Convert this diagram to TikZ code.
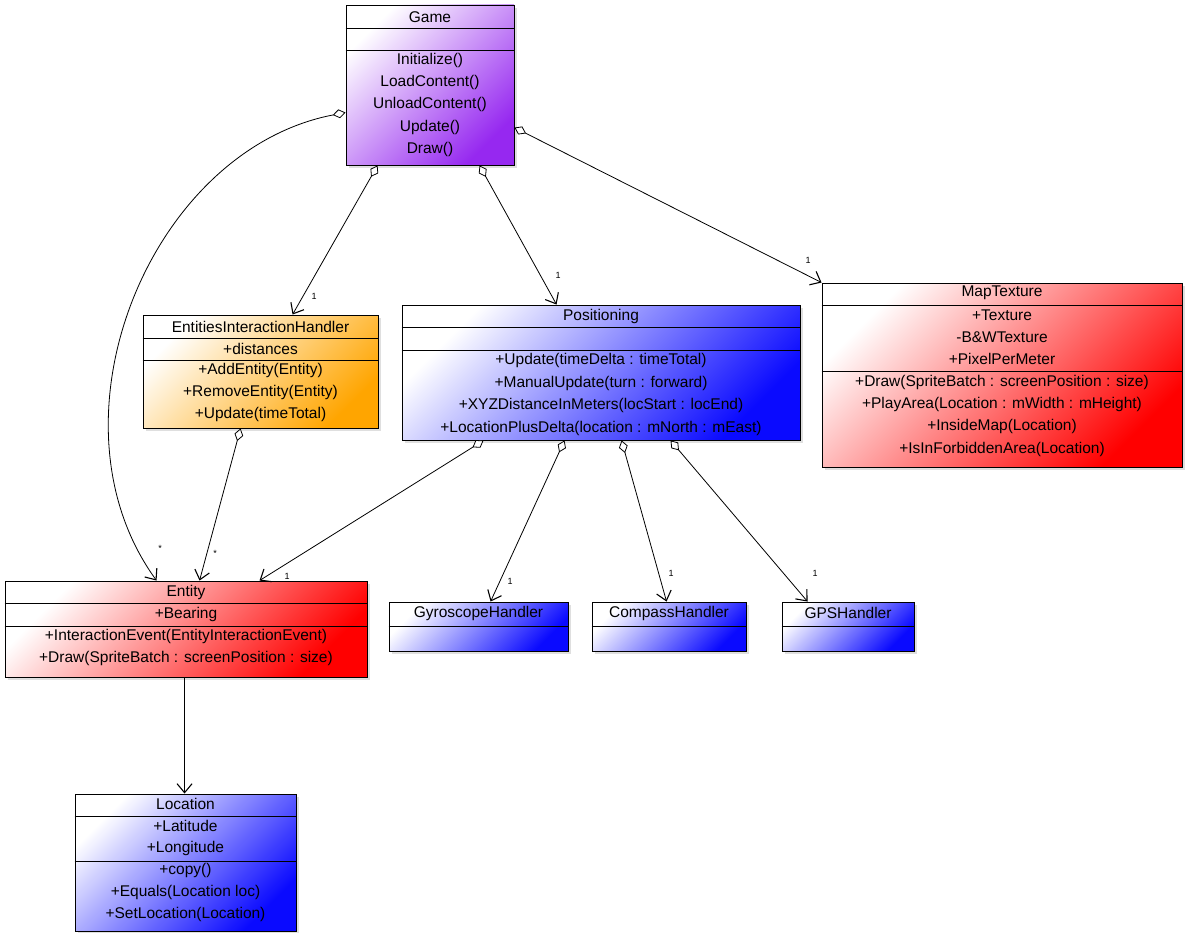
\documentclass[tikz,border=0pt]{standalone}
\usepackage{fontspec}
\setmainfont{Liberation Sans}
\usetikzlibrary{arrows.meta,shadows,calc}
\definecolor{gamecol}{RGB}{150,40,240}
\definecolor{orangecol}{RGB}{255,165,0}
\definecolor{bluecol}{RGB}{10,10,255}
\definecolor{redcol}{RGB}{255,0,0}
\begin{document}
\begin{tikzpicture}[x=1pt,y=-1pt,
  cls/.style={draw=black, line width=0.9pt, rectangle, inner sep=0pt,
    drop shadow={shadow xshift=3pt, shadow yshift=-3pt, opacity=0.25}},
  purplebox/.style={cls, top color=white, bottom color=gamecol, shading angle=45},
  orangebox/.style={cls, top color=white, bottom color=orangecol, shading angle=45},
  bluebox/.style={cls, top color=white, bottom color=bluecol, shading angle=45},
  redbox/.style={cls, top color=white, bottom color=redcol, shading angle=45},
  row/.style={font=\fontsize{15.5}{17}\selectfont, inner sep=0pt, anchor=center},
  mult/.style={font=\fontsize{9}{10}\selectfont, inner sep=0pt},
  sep/.style={line width=0.8pt},
  conn/.style={line width=0.8pt},
  agg/.style={conn, {Diamond[open,fill=white,length=13pt,width=9pt,line width=0.8pt]}-{Straight Barb[length=9pt,width=15pt,line width=1.1pt]}},
  dep/.style={conn, -{Straight Barb[length=9pt,width=15pt,line width=1.1pt]}}
]
\useasboundingbox (0,0) rectangle (1185,933);

% ---------------- Game ----------------
\node[purplebox, minimum width=168pt, minimum height=160pt] (game) at (430,85) {};
\draw[sep] (game.west |- 0,28) -- (game.east |- 0,28);
\draw[sep] (game.west |- 0,50) -- (game.east |- 0,50);
\node[row] (game-t) at (430,17) {Game};
\node[row] (game-m1) at (430,60) {Initialize()};
\node[row] (game-m2) at (430,82) {LoadContent()};
\node[row] (game-m3) at (430,104) {UnloadContent()};
\node[row] (game-m4) at (430,127) {Update()};
\node[row] (game-m5) at (430,149) {Draw()};

% ---------------- EntitiesInteractionHandler ----------------
\node[orangebox, minimum width=235pt, minimum height=113pt] (eih) at (260.5,371.5) {};
\draw[sep] (eih.west |- 0,338) -- (eih.east |- 0,338);
\draw[sep] (eih.west |- 0,360) -- (eih.east |- 0,360);
\node[row] (eih-t) at (260.5,327) {EntitiesInteractionHandler};
\node[row] (eih-a1) at (260.5,349) {+distances};
\node[row] (eih-m1) at (260.5,370) {+AddEntity(Entity)};
\node[row] (eih-m2) at (260.5,392) {+RemoveEntity(Entity)};
\node[row] (eih-m3) at (260.5,414) {+Update(timeTotal)};

% ---------------- Positioning ----------------
\node[bluebox, minimum width=398pt, minimum height=135pt] (pos) at (601,372.5) {};
\draw[sep] (pos.west |- 0,327) -- (pos.east |- 0,327);
\draw[sep] (pos.west |- 0,350) -- (pos.east |- 0,350);
\node[row] (pos-t) at (601,316) {Positioning};
\node[row] (pos-m1) at (601,360) {+Update(timeDelta : timeTotal)};
\node[row] (pos-m2) at (601,383) {+ManualUpdate(turn : forward)};
\node[row] (pos-m3) at (601,405) {+XYZDistanceInMeters(locStart : locEnd)};
\node[row] (pos-m4) at (601,428) {+LocationPlusDelta(location : mNorth : mEast)};

% ---------------- MapTexture ----------------
\node[redbox, minimum width=360pt, minimum height=184pt] (map) at (1002,375) {};
\draw[sep] (map.west |- 0,305) -- (map.east |- 0,305);
\draw[sep] (map.west |- 0,371) -- (map.east |- 0,371);
\node[row] (map-t) at (1002,293) {MapTexture};
\node[row] (map-a1) at (1002,315) {+Texture};
\node[row] (map-a2) at (1002,337) {-B\&WTexture};
\node[row] (map-a3) at (1002,359) {+PixelPerMeter};
\node[row] (map-m1) at (1002,382) {+Draw(SpriteBatch : screenPosition : size)};
\node[row] (map-m2) at (1002,404) {+PlayArea(Location : mWidth : mHeight)};
\node[row] (map-m3) at (1002,426) {+InsideMap(Location)};
\node[row] (map-m4) at (1002,449) {+IsInForbiddenArea(Location)};

% ---------------- Entity ----------------
\node[redbox, minimum width=362pt, minimum height=96pt] (ent) at (186,629) {};
\draw[sep] (ent.west |- 0,603) -- (ent.east |- 0,603);
\draw[sep] (ent.west |- 0,626) -- (ent.east |- 0,626);
\node[row] (ent-t) at (186,592) {Entity};
\node[row] (ent-a1) at (186,614) {+Bearing};
\node[row] (ent-m1) at (186,636) {+InteractionEvent(EntityInteractionEvent)};
\node[row] (ent-m2) at (186,658) {+Draw(SpriteBatch : screenPosition : size)};

% ---------------- Handlers ----------------
\node[bluebox, minimum width=179pt, minimum height=49pt] (gyro) at (478.5,626.5) {};
\draw[sep] (gyro.west |- 0,626) -- (gyro.east |- 0,626);
\node[row] (gyro-t) at (478.5,613) {GyroscopeHandler};

\node[bluebox, minimum width=154pt, minimum height=49pt] (comp) at (669,626.5) {};
\draw[sep] (comp.west |- 0,626) -- (comp.east |- 0,626);
\node[row] (comp-t) at (669,613) {CompassHandler};

\node[bluebox, minimum width=132pt, minimum height=49pt] (gps) at (848,626.5) {};
\draw[sep] (gps.west |- 0,626) -- (gps.east |- 0,626);
\node[row] (gps-t) at (848,613) {GPSHandler};

% ---------------- Location ----------------
\node[bluebox, minimum width=221pt, minimum height=137pt] (loc) at (185.5,862.5) {};
\draw[sep] (loc.west |- 0,816) -- (loc.east |- 0,816);
\draw[sep] (loc.west |- 0,861) -- (loc.east |- 0,861);
\node[row] (loc-t) at (185.5,804) {Location};
\node[row] (loc-a1) at (185.5,826) {+Latitude};
\node[row] (loc-a2) at (185.5,848) {+Longitude};
\node[row] (loc-m1) at (185.5,870) {+copy()};
\node[row] (loc-m2) at (185.5,892) {+Equals(Location loc)};
\node[row] (loc-m3) at (185.5,914) {+SetLocation(Location)};

% ---------------- Connectors ----------------
\coordinate (g-left) at ($(game.north west)+(0,108)$);
\coordinate (g-b1) at ($(game.south west)+(32,0)$);
\coordinate (g-b2) at ($(game.south west)+(134,0)$);
\coordinate (g-right) at ($(game.north east)+(0,123)$);
\coordinate (eih-in) at ($(eih.north west)+(150,0)$);
\coordinate (pos-in) at ($(pos.north west)+(155,0)$);
\coordinate (ent-in1) at ($(ent.north west)+(152,0)$);
\coordinate (ent-in2) at ($(ent.north west)+(195,0)$);
\coordinate (ent-in3) at ($(ent.north west)+(255,0)$);
\coordinate (eih-out) at ($(eih.south west)+(98,0)$);
\coordinate (pos-o1) at ($(pos.south west)+(82,0)$);
\coordinate (pos-o2) at ($(pos.south west)+(163,0)$);
\coordinate (pos-o3) at ($(pos.south west)+(220,0)$);
\coordinate (pos-o4) at ($(pos.south west)+(269,0)$);
\coordinate (gyro-in) at ($(gyro.north west)+(102,0)$);
\coordinate (comp-in) at ($(comp.north west)+(75,0)$);
\coordinate (gps-in) at ($(gps.north west)+(26,0)$);
\coordinate (ent-out) at ($(ent.south west)+(180,0)$);
\coordinate (loc-in) at ($(loc.north west)+(110,0)$);

\draw[agg] (g-left) .. controls (150,150) and (40,420) .. (ent-in1);
\draw[agg] (g-b1) -- (eih-in);
\draw[agg] (g-b2) -- (pos-in);
\draw[agg] (g-right) -- (map.north west);
\draw[agg] (eih-out) -- (ent-in2);
\draw[agg] (pos-o1) -- (ent-in3);
\draw[agg] (pos-o2) -- (gyro-in);
\draw[agg] (pos-o3) -- (comp-in);
\draw[agg] (pos-o4) -- (gps-in);
\draw[dep] (ent-out) -- (loc-in);

% ---------------- Multiplicities ----------------
\node[mult] (m1) at (160,548) {*};
\node[mult] (m2) at (215,553) {*};
\node[mult] (m3) at (314,296) {1};
\node[mult] (m4) at (558,275) {1};
\node[mult] (m5) at (808,260) {1};
\node[mult] (m6) at (287,576) {1};
\node[mult] (m7) at (510,581) {1};
\node[mult] (m8) at (671,573) {1};
\node[mult] (m9) at (815,573) {1};
\end{tikzpicture}
\end{document}
